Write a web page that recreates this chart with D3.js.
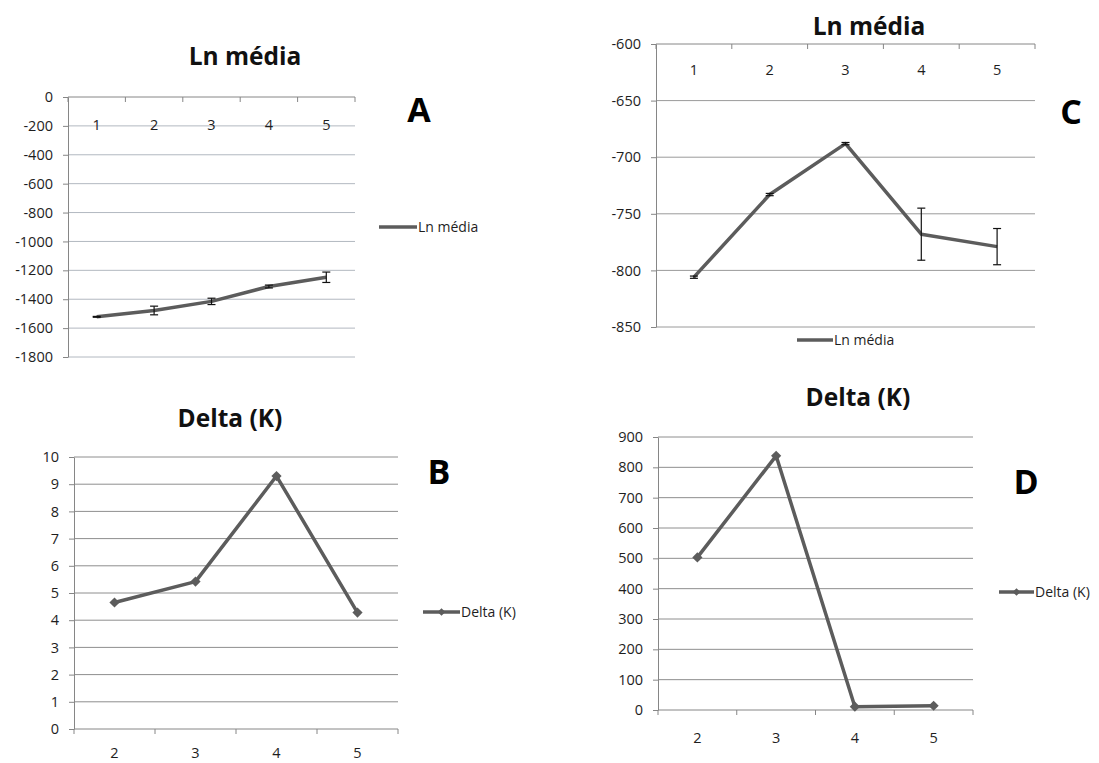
<!DOCTYPE html>
<html>
<head>
<meta charset="utf-8">
<script src="https://cdn.jsdelivr.net/npm/d3@7"></script>
<style>
    body { margin: 0; background: #fff; }
    svg { display: block; font-family: "Open Sans", sans-serif; }
</style>
</head>
<body>
<svg id="svg-main" width="1099" height="763"></svg>
<script>
// data
var lnCats = ["1", "2", "3", "4", "5"];
var lnMeanA = [-1522, -1478, -1415, -1312, -1248];
var lnErrA = [3, 30, 22, 10, 36];
var lnTicksA = [0, -200, -400, -600, -800, -1000, -1200, -1400, -1600, -1800];

var lnMeanC = [-806, -733, -688, -768, -779];
var lnErrC = [1, 1, 1, 23, 16];
var lnTicksC = [-600, -650, -700, -750, -800, -850];

var deltaCats = ["2", "3", "4", "5"];
var deltaB = [4.65, 5.42, 9.3, 4.28];
var deltaTicksB = [0, 1, 2, 3, 4, 5, 6, 7, 8, 9, 10];

var deltaD = [503, 838, 11, 14];
var deltaTicksD = [0, 100, 200, 300, 400, 500, 600, 700, 800, 900];

var svg = d3.select("svg");
var lineColor = "#5c5c5c";
var tickFont = 14.5;

function drawPanel(p) {
    var g = svg.append("g");
    var x = d3.scaleBand().domain(p.cats).range([p.left, p.right]);
    var y = d3.scaleLinear().domain(p.domain).range([p.bottom, p.top]);
    var bw = x.bandwidth();

    // gridlines
    g.append("g").selectAll("line")
        .data(p.ticks.filter(function (t) { return t !== p.axisAt; }))
        .enter().append("line")
        .attr("x1", p.left).attr("x2", p.right)
        .attr("y1", function (d) { return y(d); })
        .attr("y2", function (d) { return y(d); })
        .attr("stroke", p.grid).attr("stroke-width", 1);

    // y axis
    var ya = g.append("g")
        .attr("transform", "translate(" + p.left + ",0)")
        .call(d3.axisLeft(y).tickValues(p.ticks).tickSize(5).tickPadding(10).tickSizeOuter(0)
            .tickFormat(function (d) { return String(d); }));
    ya.select(".domain").attr("stroke", "#868686");
    ya.selectAll(".tick line").attr("stroke", "#868686");
    ya.selectAll(".tick text")
        .attr("font-family", "Open Sans").attr("font-size", tickFont).attr("fill", "#1e1e1e");

    // x axis line + ticks at band edges
    var ay = y(p.axisAt);
    g.append("line")
        .attr("x1", p.left).attr("x2", p.right)
        .attr("y1", ay).attr("y2", ay)
        .attr("stroke", "#868686");
    var edges = p.cats.map(function (c) { return x(c); }).concat([p.right]);
    g.append("g").selectAll("line")
        .data(edges)
        .enter().append("line")
        .attr("x1", function (d) { return d; }).attr("x2", function (d) { return d; })
        .attr("y1", ay).attr("y2", ay + 5)
        .attr("stroke", "#868686");
    g.append("g").selectAll("text")
        .data(p.cats)
        .enter().append("text")
        .attr("x", function (d) { return x(d) + bw / 2; })
        .attr("y", p.labelY)
        .attr("text-anchor", "middle")
        .attr("font-size", tickFont).attr("fill", "#1e1e1e")
        .text(function (d) { return d; });

    var pts = p.cats.map(function (c, i) { return { c: c, v: p.values[i], e: p.errs ? p.errs[i] : 0 }; });

    var line = d3.line()
        .x(function (d) { return x(d.c) + bw / 2; })
        .y(function (d) { return y(d.v); });

    g.append("path")
        .datum(pts)
        .attr("d", line)
        .attr("fill", "none")
        .attr("stroke", lineColor)
        .attr("stroke-width", 3.5)
        .attr("stroke-linejoin", "round");

    if (p.errs) {
        var eb = g.append("g").selectAll("g")
            .data(pts)
            .enter().append("g");
        eb.append("line")
            .attr("x1", function (d) { return x(d.c) + bw / 2; })
            .attr("x2", function (d) { return x(d.c) + bw / 2; })
            .attr("y1", function (d) { return y(d.v + d.e); })
            .attr("y2", function (d) { return y(d.v - d.e); })
            .attr("stroke", "#111").attr("stroke-width", 1.2);
        [1, -1].forEach(function (s) {
            eb.append("line")
                .attr("x1", function (d) { return x(d.c) + bw / 2 - 4; })
                .attr("x2", function (d) { return x(d.c) + bw / 2 + 4; })
                .attr("y1", function (d) { return y(d.v + s * d.e); })
                .attr("y2", function (d) { return y(d.v + s * d.e); })
                .attr("stroke", "#111").attr("stroke-width", 1.2);
        });
    }

    if (p.markers) {
        g.append("g").selectAll("path")
            .data(pts)
            .enter().append("path")
            .attr("d", d3.symbol(d3.symbolSquare, 52))
            .attr("transform", function (d) {
                return "translate(" + (x(d.c) + bw / 2) + "," + y(d.v) + ") rotate(45)";
            })
            .attr("fill", lineColor);
    }

    // title and panel letter
    g.append("text")
        .attr("x", p.titleX).attr("y", p.titleY)
        .attr("text-anchor", "middle")
        .attr("font-size", 24.5).attr("font-weight", "bold").attr("fill", "#111")
        .text(p.title);
    g.append("text")
        .attr("x", p.letterX).attr("y", p.letterY)
        .attr("text-anchor", "middle")
        .attr("font-size", 34).attr("font-weight", "bold").attr("fill", "#000")
        .text(p.letter);

    // legend
    var lg = g.append("g").attr("transform", "translate(" + p.legX + "," + p.legY + ")");
    lg.append("line")
        .attr("x1", 0).attr("x2", p.legW)
        .attr("stroke", lineColor).attr("stroke-width", 3.5);
    if (p.markers) {
        lg.append("path")
            .attr("d", d3.symbol(d3.symbolSquare, 30))
            .attr("transform", "translate(" + p.legW / 2 + ",0) rotate(45)")
            .attr("fill", lineColor);
    }
    lg.append("text")
        .attr("x", p.legW + 1).attr("y", 5)
        .attr("font-size", tickFont - 0.5).attr("fill", "#1e1e1e")
        .text(p.legend);
}

drawPanel({
    cats: lnCats, values: lnMeanA, errs: lnErrA, ticks: lnTicksA,
    domain: [-1800, 0], axisAt: 0,
    left: 68, right: 355, top: 97, bottom: 357, labelY: 130,
    grid: "#b2b8c0",
    title: "Ln média", titleX: 245, titleY: 65,
    letter: "A", letterX: 419, letterY: 122,
    legend: "Ln média", legX: 379, legY: 227, legW: 38
});

drawPanel({
    cats: lnCats, values: lnMeanC, errs: lnErrC, ticks: lnTicksC,
    domain: [-850, -600], axisAt: -600,
    left: 656, right: 1035, top: 44, bottom: 327, labelY: 75,
    grid: "#9a9a9a",
    title: "Ln média", titleX: 869, titleY: 35,
    letter: "C", letterX: 1071, letterY: 124,
    legend: "Ln média", legX: 797, legY: 340, legW: 36
});

drawPanel({
    cats: deltaCats, values: deltaB, ticks: deltaTicksB, markers: true,
    domain: [0, 10], axisAt: 0,
    left: 74, right: 398, top: 457, bottom: 729, labelY: 758,
    grid: "#8e8e8e",
    title: "Delta (K)", titleX: 230, titleY: 427,
    letter: "B", letterX: 439, letterY: 484,
    legend: "Delta (K)", legX: 423, legY: 612, legW: 37
});

drawPanel({
    cats: deltaCats, values: deltaD, ticks: deltaTicksD, markers: true,
    domain: [0, 900], axisAt: 0,
    left: 658, right: 973, top: 437, bottom: 710, labelY: 743,
    grid: "#8e8e8e",
    title: "Delta (K)", titleX: 858, titleY: 406,
    letter: "D", letterX: 1026, letterY: 494,
    legend: "Delta (K)", legX: 999, legY: 592, legW: 35
});
</script>
</body>
</html>
